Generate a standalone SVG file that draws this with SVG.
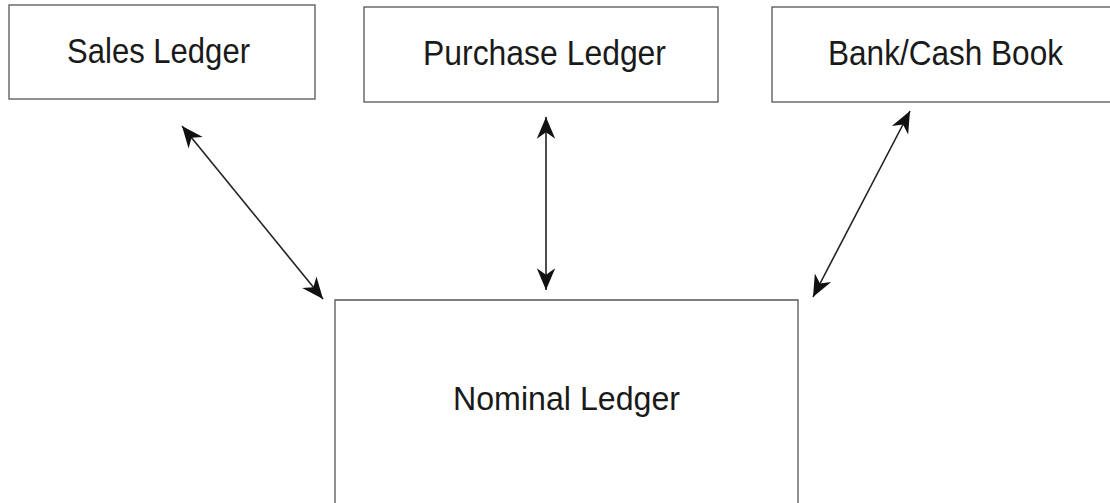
<svg xmlns="http://www.w3.org/2000/svg" width="1110" height="503" viewBox="0 0 1110 503">
<style>
.box{fill:#fff;stroke:#555;stroke-width:1.3}
.lbl{font-family:"Liberation Sans Narrow","Liberation Sans",Arial,sans-serif;fill:#1a1a1a;text-anchor:start}
.con{stroke:#222;stroke-width:1.6;fill:none;marker-start:url(#ah);marker-end:url(#ah)}
</style>
<defs>
<marker id="ah" markerUnits="userSpaceOnUse" markerWidth="26" markerHeight="22" viewBox="-22 -10 24 20" refX="0" refY="0" orient="auto-start-reverse">
<path d="M0,0 L-20,-8.5 L-14,0 L-20,8.5 Z" fill="#111"/>
</marker>
</defs>
<rect width="1110" height="503" fill="#fff"/>
<g id="sales-ledger">
<rect class="box" x="9" y="5" width="306" height="94"/>
<text class="lbl" x="67" y="63" font-size="35" textLength="183" lengthAdjust="spacingAndGlyphs">Sales Ledger</text>
</g>
<g id="purchase-ledger">
<rect class="box" x="364" y="7" width="354" height="95"/>
<text class="lbl" x="423" y="65" font-size="35" textLength="243" lengthAdjust="spacingAndGlyphs">Purchase Ledger</text>
</g>
<g id="bank-cash-book">
<rect class="box" x="772" y="7" width="345" height="95"/>
<text class="lbl" x="828" y="65" font-size="35" textLength="235" lengthAdjust="spacingAndGlyphs">Bank/Cash Book</text>
</g>
<g id="nominal-ledger">
<path class="box" d="M335,510 V300 H798 V510"/>
<text class="lbl" x="453" y="410" font-size="33" textLength="227" lengthAdjust="spacingAndGlyphs">Nominal Ledger</text>
</g>
<g id="connectors">
<line class="con" x1="182" y1="126" x2="323" y2="299"/>
<line class="con" x1="546" y1="117" x2="546" y2="290"/>
<line class="con" x1="910" y1="111" x2="813" y2="297"/>
</g>
</svg>
